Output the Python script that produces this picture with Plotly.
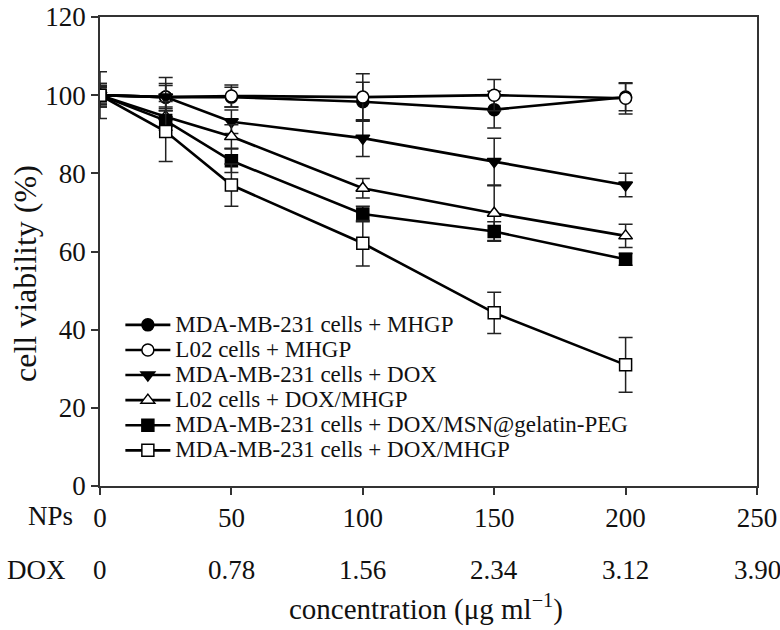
import plotly.graph_objects as go

conc_nps = [0, 25, 50, 100, 150, 200]

names = [
    "MDA-MB-231 cells + MHGP",
    "L02 cells + MHGP",
    "MDA-MB-231 cells + DOX",
    "L02 cells + DOX/MHGP",
    "MDA-MB-231 cells + DOX/MSN@gelatin-PEG",
    "MDA-MB-231 cells + DOX/MHGP",
]
mda_mhgp = [100, 99.5, 99.5, 98.3, 96.3, 99.5]
mda_mhgp_err = [3, 3, 2.5, 5, 4.7, 3.5]
l02_mhgp = [100, 99.5, 99.8, 99.5, 100, 99.2]
l02_mhgp_err = [6, 5, 2.8, 6, 4, 4]
mda_dox = [100, 99.5, 93.2, 89, 83, 77]
mda_dox_err = [2, 3.5, 3, 4.7, 6, 3]
l02_dox_mhgp = [100, 94.5, 89.4, 76.2, 69.8, 64]
l02_dox_mhgp_err = [2.5, 2.5, 3, 2.5, 7, 3]
mda_dox_msn = [100, 93.5, 83.2, 69.6, 65.1, 58]
mda_dox_msn_err = [2.3, 2.5, 3, 2, 2.5, 1.5]
mda_dox_mhgp = [100, 90.7, 77, 62.1, 44.3, 31]
mda_dox_mhgp_err = [3, 7.7, 5.4, 5.8, 5.3, 7]

series = [mda_mhgp, l02_mhgp, mda_dox, l02_dox_mhgp, mda_dox_msn, mda_dox_mhgp]
errors = [mda_mhgp_err, l02_mhgp_err, mda_dox_err, l02_dox_mhgp_err, mda_dox_msn_err, mda_dox_mhgp_err]
symbols = ["circle", "circle", "triangle-down", "triangle-up", "square", "square"]
fills = ["black", "white", "black", "white", "black", "white"]

np_ticks = [0, 50, 100, 150, 200, 250]
np_ticktext = ["0", "50", "100", "150", "200", "250"]
dox_ticktext = ["0", "0.78", "1.56", "2.34", "3.12", "3.90"]
y_ticks = [0, 20, 40, 60, 80, 100, 120]

FONT = "Liberation Serif, Times New Roman, serif"
TXT = "#111"

fig = go.Figure()
for name, vals, err, sym, fc in zip(names, series, errors, symbols, fills):
    fig.add_trace(go.Scatter(
        x=conc_nps, y=vals,
        name='<span style="font-size:23px">' + name + '</span>',
        mode="lines+markers",
        line=dict(color="black", width=2.6),
        marker=dict(symbol=sym, size=12, color=fc, line=dict(color="black", width=1.5)),
        error_y=dict(type="data", array=err, visible=True, color="#222", thickness=1.5, width=7),
    ))

for xv, t in zip(np_ticks, dox_ticktext):
    fig.add_annotation(x=xv, y=-0.179, xref="x", yref="paper", text=t, showarrow=False,
                       xanchor="center", yanchor="middle", font=dict(family=FONT, size=27, color=TXT))

fig.add_annotation(x=-0.038, y=-0.064, xref="paper", yref="paper", text="NPs", showarrow=False,
                   xanchor="right", yanchor="middle", font=dict(family=FONT, size=27, color=TXT))
fig.add_annotation(x=-0.049, y=-0.179, xref="paper", yref="paper", text="DOX", showarrow=False,
                   xanchor="right", yanchor="middle", font=dict(family=FONT, size=27, color=TXT))
fig.add_annotation(x=0.496, y=-0.258, xref="paper", yref="paper",
                   text="concentration (μg ml<sup>−1</sup>)", showarrow=False,
                   xanchor="center", yanchor="middle", font=dict(family=FONT, size=29, color=TXT))
fig.add_annotation(x=-0.115, y=0.453, xref="paper", yref="paper", text="cell viability (%)",
                   textangle=-90, showarrow=False, xanchor="center", yanchor="middle",
                   font=dict(family=FONT, size=32, color=TXT))

fig.update_layout(
    width=780, height=630,
    margin=dict(l=100, r=23, t=17, b=144, autoexpand=False),
    paper_bgcolor="white", plot_bgcolor="white",
    font=dict(family=FONT, size=27, color=TXT),
    showlegend=True,
    legend=dict(x=0.031, y=0.381, xanchor="left", yanchor="top", bgcolor="rgba(0,0,0,0)",
                font=dict(family=FONT, size=17, color=TXT), itemwidth=45, tracegroupgap=0),
    xaxis=dict(range=[0, 250], tickvals=np_ticks, ticktext=np_ticktext, ticks="outside", ticklen=7,
               tickwidth=1.5, tickcolor="#333", showline=True, linecolor="#333", linewidth=1.5,
               mirror=True, showgrid=False, zeroline=False, ticklabelstandoff=0, automargin=False,
               ticklabeloverflow="allow"),
    yaxis=dict(range=[0, 120], tickvals=y_ticks, ticks="outside", ticklen=7, tickwidth=1.5,
               tickcolor="#333", showline=True, linecolor="#333", linewidth=1.5, mirror=True,
               showgrid=False, zeroline=False, automargin=False, ticklabeloverflow="allow"),
)

fig.write_html("out.html", config={"displayModeBar": False},
               post_script="document.body.style.margin='0';document.body.style.overflow='hidden';")
